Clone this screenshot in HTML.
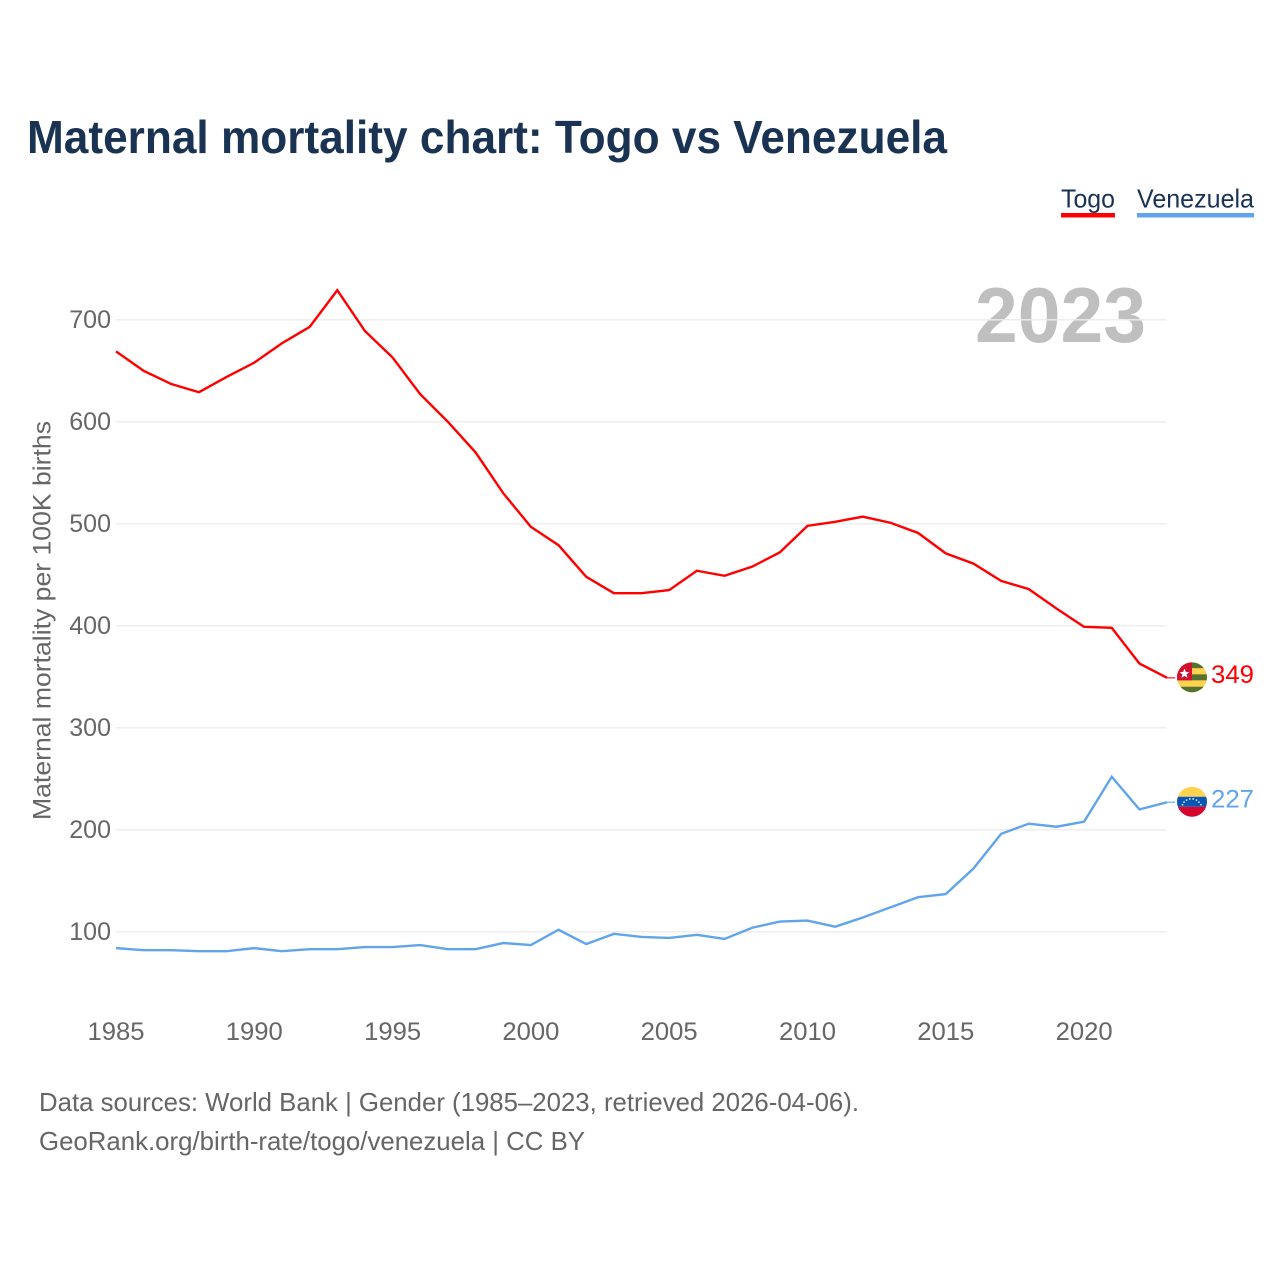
<!DOCTYPE html>
<html lang="en">
<head>
<meta charset="utf-8">
<title>Maternal mortality chart: Togo vs Venezuela</title>
<style>
html,body{margin:0;padding:0;background:#fff;}
svg{display:block;font-family:"Liberation Sans",sans-serif;}
</style>
</head>
<body>
<svg id="chart" width="1280" height="1280" viewBox="0 0 1280 1280" xmlns="http://www.w3.org/2000/svg">
  <defs>
    <clipPath id="flag-clip"><circle cx="0" cy="0" r="15"/></clipPath>
  </defs>
  <rect x="0" y="0" width="1280" height="1280" fill="#ffffff"/>
  <text x="27" y="153" font-size="46" font-weight="700" fill="#1a3353" textLength="920" lengthAdjust="spacingAndGlyphs">Maternal mortality chart: Togo vs Venezuela</text>

  <g>
    <g>
      <text x="1061" y="207.5" font-size="26" fill="#1a3353" textLength="54" lengthAdjust="spacingAndGlyphs">Togo</text>
      <rect x="1061" y="213" width="54" height="4.5" fill="#ff0000"/>
    </g>
    <g>
      <text x="1137" y="207.5" font-size="26" fill="#1a3353" textLength="117" lengthAdjust="spacingAndGlyphs">Venezuela</text>
      <rect x="1137" y="213" width="117" height="4.5" fill="#60a5ec"/>
    </g>
  </g>

  <text x="1146" y="342" font-size="78" font-weight="700" fill="#bfbfbf" text-anchor="end" textLength="171" lengthAdjust="spacingAndGlyphs">2023</text>

  <g id="grid"></g>
  <g id="y-ticks"></g>
  <g id="x-ticks"></g>
  <text transform="translate(50.5 620.5) rotate(-90)" font-size="25" fill="#666666" text-anchor="middle" textLength="399" lengthAdjust="spacingAndGlyphs">Maternal mortality per 100K births</text>

  <g id="series"></g>

  <g id="flag-togo">
    <g clip-path="url(#flag-clip)">
      <rect x="-15" y="-16" width="30" height="32" fill="#ffd34f"/>
      <rect x="-15" y="-16" width="30" height="6.8" fill="#54722e"/>
      <rect x="-15" y="-3" width="30" height="6" fill="#54722e"/>
      <rect x="-15" y="9.4" width="30" height="6.6" fill="#54722e"/>
      <rect x="-15" y="-16" width="15" height="19" fill="#d21034"/>
      <polygon fill="#ffffff" points="-7.5,-8.8 -6.2,-5.4 -2.6,-5.2 -5.4,-3 -4.5,0.6 -7.5,-1.4 -10.5,0.6 -9.6,-3 -12.4,-5.2 -8.8,-5.4"/>
    </g>
  </g>
  <g id="flag-venezuela">
    <g clip-path="url(#flag-clip)">
      <rect x="-15" y="-16" width="30" height="11" fill="#ffd34f"/>
      <rect x="-15" y="-5" width="30" height="10" fill="#0a56b4"/>
      <rect x="-15" y="5" width="30" height="11" fill="#d4052f"/>
      <g fill="#ffffff" opacity="0.85">
        <circle cx="-9.5" cy="3" r="0.9"/><circle cx="-8" cy="0.4" r="0.9"/><circle cx="-5.5" cy="-1.6" r="0.9"/><circle cx="-2.2" cy="-2.8" r="0.9"/>
        <circle cx="1.2" cy="-2.8" r="0.9"/><circle cx="4.5" cy="-1.6" r="0.9"/><circle cx="7" cy="0.4" r="0.9"/><circle cx="9" cy="3" r="0.9"/>
      </g>
    </g>
  </g>

  <g id="end-labels"></g>

  <text x="39" y="1111" font-size="26" fill="#666666" textLength="820" lengthAdjust="spacingAndGlyphs">Data sources: World Bank | Gender (1985–2023, retrieved 2026-04-06).</text>
  <text x="39" y="1150" font-size="26" fill="#666666" textLength="546" lengthAdjust="spacingAndGlyphs">GeoRank.org/birth-rate/togo/venezuela | CC BY</text>
</svg>
<script>
const years = [1985,1986,1987,1988,1989,1990,1991,1992,1993,1994,1995,1996,1997,1998,1999,2000,2001,2002,2003,2004,2005,2006,2007,2008,2009,2010,2011,2012,2013,2014,2015,2016,2017,2018,2019,2020,2021,2022,2023];
const togoValues = [669,650,637,629,644,658,677,693,729,689,663,627,600,570,530,497,479,448,432,432,435,454,449,458,472,498,502,507,501,491,471,461,444,436,417,399,398,363,349];
const venezuelaValues = [84,82,82,81,81,84,81,83,83,85,85,87,83,83,89,87,102,88,98,95,94,97,93,104,110,111,105,114,124,134,137,162,196,206,203,208,252,220,227];
const yTickValues = [100,200,300,400,500,600,700];
const xTickValues = [1985,1990,1995,2000,2005,2010,2015,2020];

const SVG_NS = 'http://www.w3.org/2000/svg';
const xScale = function (year) { return 116 + (year - 1985) * 27.66; };
const yScale = function (value) { return 319.8 + (700 - value) * 1.02; };

function make(tag, parent, attrs, text) {
  const el = document.createElementNS(SVG_NS, tag);
  for (const key in attrs) { el.setAttribute(key, attrs[key]); }
  if (text !== undefined) { el.textContent = text; }
  parent.appendChild(el);
  return el;
}

const gridGroup = document.getElementById('grid');
const yTickGroup = document.getElementById('y-ticks');
yTickValues.forEach(function (v) {
  const line = make('line', gridGroup, {x1: 116, x2: 1166.5, y1: yScale(v), y2: yScale(v), stroke: '#ececec', 'stroke-width': 1.3});
  
  
  const label = make('text', yTickGroup, {x: 111, y: yScale(v) + 8, 'font-size': 25, fill: '#666666', 'text-anchor': 'end'}, String(v));
  
  
});

const xTickGroup = document.getElementById('x-ticks');
xTickValues.forEach(function (yr) {
  const label = make('text', xTickGroup, {x: xScale(yr), y: 1040, 'font-size': 25, fill: '#666666', 'text-anchor': 'middle', textLength: 57, lengthAdjust: 'spacingAndGlyphs'}, String(yr));
  
  
});

const seriesGroup = document.getElementById('series');
const labelGroup = document.getElementById('end-labels');

function drawSeries(key, values, color, flagId) {
  const points = values.map(function (v, i) { return xScale(years[i]).toFixed(2) + ',' + yScale(v).toFixed(2); }).join(' ');
  const line = make('polyline', seriesGroup, {points: points, fill: 'none', stroke: color, 'stroke-width': 2.4, 'stroke-linejoin': 'miter'});
  
  

  const last = values[values.length - 1];
  const lastX = xScale(years[years.length - 1]);
  const lastY = yScale(last);

  const stub = make('line', seriesGroup, {x1: lastX, x2: lastX + 8, y1: lastY, y2: lastY, stroke: color, 'stroke-width': 1.4, opacity: 0.8});
  
  

  document.getElementById(flagId).setAttribute('transform', 'translate(1192 ' + (lastY - 0.5) + ')');

  const label = make('text', labelGroup, {x: 1254, y: lastY + 5, 'font-size': 25, fill: color, 'text-anchor': 'end', textLength: 43, lengthAdjust: 'spacingAndGlyphs'}, String(last));
  
  
}

drawSeries('togo', togoValues, '#ff0000', 'flag-togo');
drawSeries('venezuela', venezuelaValues, '#60a5ec', 'flag-venezuela');
</script>
</body>
</html>
